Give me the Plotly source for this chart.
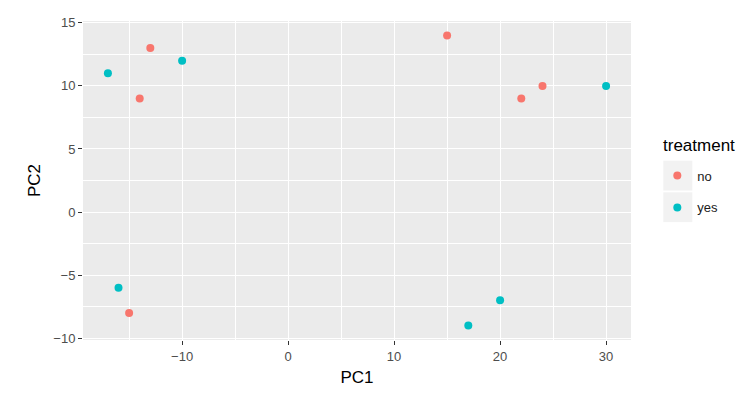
import plotly.graph_objects as go

groups = ["no", "yes"]
colors = ["#F8766D", "#00BFC4"]
pc1_no = [-13, -14, -15, 15, 22, 24]
pc2_no = [13, 9, -8, 14, 9, 10]
pc1_yes = [-17, -10, -16, 20, 17, 30]
pc2_yes = [11, 12, -6, -7, -9, 10]

x_ticks = [-10, 0, 10, 20, 30]
y_ticks = [-10, -5, 0, 5, 10, 15]

# page body has an 8px default margin; plot area in page coords: x 83..630.7, y 21.4..339.6
OFF = 8
L, T, PW, PH = 83, 21.4, 547.7, 318.2
W, H = 738, 382


def px(xp):
    return (xp - L) / PW


def py(yp):
    return (T + PH - yp) / PH


fig = go.Figure()
for name, col, xs, ys in [("no", colors[0], pc1_no, pc2_no), ("yes", colors[1], pc1_yes, pc2_yes)]:
    fig.add_trace(go.Scatter(x=xs, y=ys, mode="markers", name=name, legendgroup=name,
                             marker=dict(color=col, size=8, line=dict(width=0))))

# grey legend key boxes
for y0, y1 in [(160.7, 190.5), (192.3, 222)]:
    fig.add_shape(type="rect", xref="paper", yref="paper",
                  x0=px(663), x1=px(692), y0=py(y1), y1=py(y0),
                  fillcolor="#F2F2F2", line=dict(width=0), layer="below")

fig.add_annotation(text="treatment", xref="paper", yref="paper", x=px(661), y=py(146),
                   xanchor="left", yanchor="middle", showarrow=False,
                   font=dict(family="Liberation Sans, Arial", size=17, color="black"))

axis_common = dict(showline=False, zeroline=False, gridcolor="white", gridwidth=1.1,
                   ticks="outside", ticklen=4, tickcolor="#333333", tickwidth=1.1,
                   automargin=False,
                   tickfont=dict(family="Liberation Sans, Arial", size=13, color="#4D4D4D"),
                   minor=dict(showgrid=True, gridcolor="white", gridwidth=0.5, ticks=""))

fig.update_xaxes(range=[-19.35, 32.35], tickvals=x_ticks, title=dict(text="PC1", standoff=8,
                 font=dict(family="Liberation Sans, Arial", size=17, color="black")),
                 minor_tickvals=[-15, -5, 5, 15, 25], **axis_common)
fig.update_yaxes(range=[-10.15, 15.15], tickvals=y_ticks, title=dict(text="PC2", standoff=8,
                 font=dict(family="Liberation Sans, Arial", size=17, color="black")),
                 minor_tickvals=[-7.5, -2.5, 2.5, 7.5, 12.5], **axis_common)

fig.update_layout(
    width=W, height=H,
    margin=dict(l=L - OFF, r=W - (L - OFF) - PW, t=T - OFF, b=H - (T - OFF) - PH, autoexpand=False),
    paper_bgcolor="white", plot_bgcolor="#EBEBEB",
    font=dict(family="Liberation Sans, Arial"),
    legend=dict(font=dict(size=13, color="#1A1A1A"),
                x=px(657), xanchor="left", y=py(160.6), yanchor="top",
                tracegroupgap=12, bgcolor="rgba(0,0,0,0)"),
)

fig.write_html("out.html")
